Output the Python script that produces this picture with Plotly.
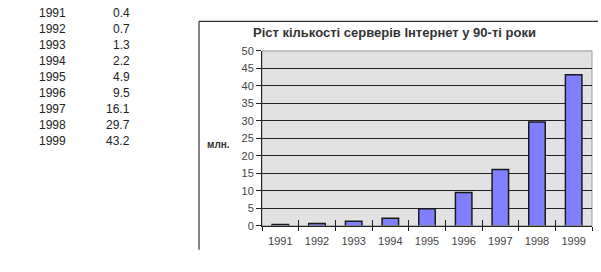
import plotly.graph_objects as go

years = ["1991", "1992", "1993", "1994", "1995", "1996", "1997", "1998", "1999"]
servers = [0.4, 0.7, 1.3, 2.2, 4.9, 9.5, 16.1, 29.7, 43.2]
value_labels = ["0.4", "0.7", "1.3", "2.2", "4.9", "9.5", "16.1", "29.7", "43.2"]
y_ticks = [0, 5, 10, 15, 20, 25, 30, 35, 40, 45, 50]
title_text = "Ріст кількості серверів Інтернет у 90-ті роки"
y_label = "млн."

W, H = 601, 272
FONT = "Liberation Sans, Arial, sans-serif"

fig = go.Figure()
fig.add_trace(go.Bar(
    x=years, y=servers,
    marker=dict(color="#7f7fff", line=dict(color="#1a1a1a", width=1.5)),
    width=0.45,
    hoverinfo="x+y",
))
# invisible trace on an overlaid axis, used to draw the inner half of the category ticks
fig.add_trace(go.Bar(x=years, y=[0] * len(years), xaxis="x2", yaxis="y",
                     marker=dict(color="rgba(0,0,0,0)"), hoverinfo="skip",
                     showlegend=False))

annotations = []
row0, row_step = 7, 16.75
for i, (yr, lab) in enumerate(zip(years, value_labels)):
    py = row0 + i * row_step
    annotations.append(dict(x=37 / W, y=1 - py / H, xref="paper", yref="paper",
                            text=yr, showarrow=False, xanchor="left", yanchor="middle",
                            font=dict(family=FONT, size=12, color="#222")))
    annotations.append(dict(x=132 / W, y=1 - py / H, xref="paper", yref="paper",
                            text=lab, showarrow=False, xanchor="right", yanchor="middle",
                            font=dict(family=FONT, size=12, color="#222")))
annotations.append(dict(x=394 / W, y=1 - 28 / H, xref="paper", yref="paper",
                        text="<b>" + title_text + "</b>", showarrow=False,
                        xanchor="center", yanchor="middle",
                        font=dict(family=FONT, size=13, color="#333")))
annotations.append(dict(x=218 / W, y=1 - 145 / H, xref="paper", yref="paper",
                        text="<b>" + y_label + "</b>", showarrow=False,
                        xanchor="center", yanchor="middle",
                        font=dict(family=FONT, size=10, color="#333")))

shapes = [
    dict(type="line", xref="paper", yref="paper", x0=199 / W, x1=598 / W,
         y0=1 - 16 / H, y1=1 - 16 / H, line=dict(color="#333", width=1.2)),
    dict(type="line", xref="paper", yref="paper", x0=199 / W, x1=199 / W,
         y0=1 - 16 / H, y1=1 - 255 / H, line=dict(color="#333", width=1.2)),
    dict(type="rect", xref="x domain", yref="y domain", x0=0, x1=1, y0=0, y1=1,
         line=dict(color="#999", width=1), layer="below"),
]

xdom = [262 / W, 592 / W]
fig.update_layout(
    width=W, height=H,
    margin=dict(l=0, r=0, t=0, b=0),
    paper_bgcolor="white",
    plot_bgcolor="#e2e2e2",
    showlegend=False,
    bargap=0.55,
    barmode="overlay",
    font=dict(family=FONT, size=11, color="#444"),
    xaxis=dict(domain=xdom, showgrid=False, ticks="outside",
               tickson="boundaries", ticklen=4, tickcolor="#222", tickwidth=1,
               showline=True, linecolor="#222", linewidth=1,
               ticklabelstandoff=5,
               tickfont=dict(family=FONT, size=11, color="#444")),
    xaxis2=dict(domain=xdom, overlaying="x", anchor="y", side="bottom",
                matches="x", showgrid=False, ticks="inside", tickson="boundaries",
                ticklen=6, tickcolor="#222", tickwidth=1, showticklabels=False,
                showline=False),
    yaxis=dict(domain=[(H - 230) / H, (H - 47) / H], range=[0, 50],
               tickvals=y_ticks, ticks="outside", ticklen=5, tickcolor="#222",
               showgrid=True, gridcolor="#222", gridwidth=1, zeroline=False,
               showline=True, linecolor="#222", linewidth=1,
               tickfont=dict(family=FONT, size=11, color="#444")),
    annotations=annotations,
    shapes=shapes,
)

fig.write_html("out.html")
